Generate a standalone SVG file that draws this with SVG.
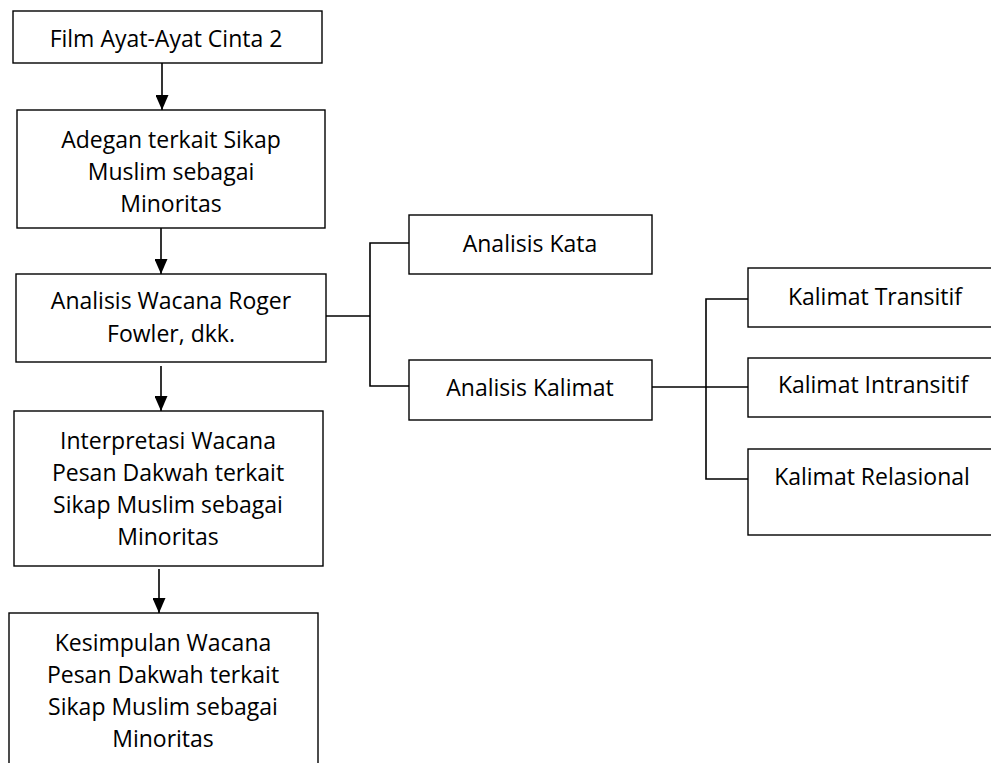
<svg xmlns="http://www.w3.org/2000/svg" width="991" height="763" viewBox="0 0 991 763">
<style>
.box{fill:#fff;stroke:#000;stroke-width:1.4}
.t{font-family:"Open Sans","Liberation Sans",sans-serif;font-size:23px;fill:#000;text-anchor:middle}
.c{fill:none;stroke:#000;stroke-width:1.6}
</style>
<defs>
<marker id="ah" viewBox="0 0 15 13" refX="15" refY="6.5" markerWidth="15" markerHeight="13" markerUnits="userSpaceOnUse" orient="auto">
<path d="M0,0 L15,6.5 L0,13 z" fill="#000"/>
</marker>
</defs>
<rect width="991" height="763" fill="#fff"/>
<g id="connectors">
<line class="c" x1="162" y1="63" x2="162" y2="110" marker-end="url(#ah)"/>
<line class="c" x1="161" y1="228" x2="161" y2="274" marker-end="url(#ah)"/>
<line class="c" x1="161" y1="366" x2="161" y2="411" marker-end="url(#ah)"/>
<line class="c" x1="159" y1="569" x2="159" y2="613" marker-end="url(#ah)"/>
<polyline class="c" points="326,316 370,316"/>
<polyline class="c" points="409,243 370,243 370,386 409,386"/>
<polyline class="c" points="652,387 748,387"/>
<polyline class="c" points="748,299 706,299 706,479 748,479"/>
</g>
<g id="n1"><rect class="box" x="13" y="11" width="309" height="52"/><text class="t" x="166" y="47">Film Ayat-Ayat Cinta 2</text></g>
<g id="n2"><rect class="box" x="17" y="110" width="308" height="118"/><text class="t" x="171" y="148">Adegan terkait Sikap</text><text class="t" x="171" y="180">Muslim sebagai</text><text class="t" x="171" y="212">Minoritas</text></g>
<g id="n3"><rect class="box" x="16" y="274" width="310" height="88"/><text class="t" x="171" y="309">Analisis Wacana Roger</text><text class="t" x="171" y="342">Fowler, dkk.</text></g>
<g id="n4"><rect class="box" x="14" y="411" width="309" height="155"/><text class="t" x="168" y="449">Interpretasi Wacana</text><text class="t" x="168" y="481">Pesan Dakwah terkait</text><text class="t" x="168" y="513">Sikap Muslim sebagai</text><text class="t" x="168" y="545">Minoritas</text></g>
<g id="n5"><rect class="box" x="9" y="613" width="309" height="170"/><text class="t" x="163" y="651">Kesimpulan Wacana</text><text class="t" x="163" y="683">Pesan Dakwah terkait</text><text class="t" x="163" y="715">Sikap Muslim sebagai</text><text class="t" x="163" y="747">Minoritas</text></g>
<g id="n6"><rect class="box" x="409" y="215" width="243" height="59"/><text class="t" x="530" y="252">Analisis Kata</text></g>
<g id="n7"><rect class="box" x="409" y="360" width="243" height="60"/><text class="t" x="530" y="396">Analisis Kalimat</text></g>
<g id="n8"><rect class="box" x="748" y="268" width="260" height="59"/><text class="t" x="875" y="305">Kalimat Transitif</text></g>
<g id="n9"><rect class="box" x="748" y="358" width="260" height="59"/><text class="t" x="873" y="393">Kalimat Intransitif</text></g>
<g id="n10"><rect class="box" x="748" y="449" width="260" height="86"/><text class="t" x="872" y="485">Kalimat Relasional</text></g>
</svg>
